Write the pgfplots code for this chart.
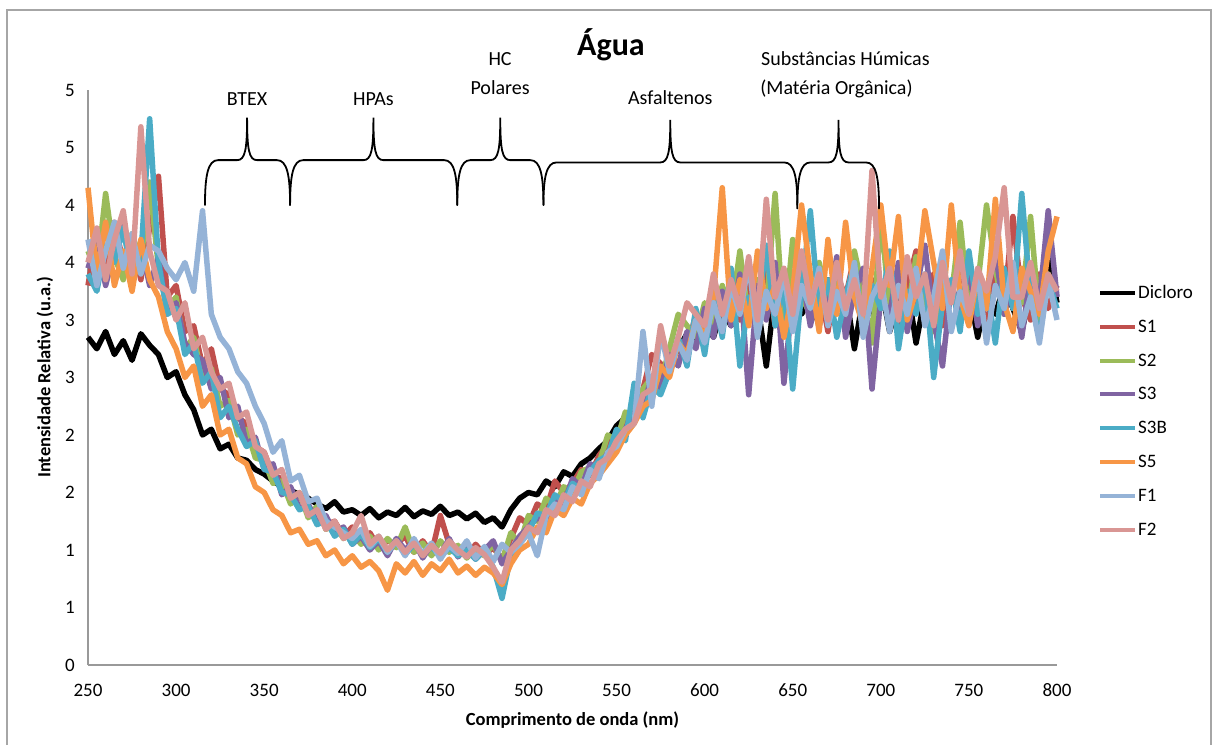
\documentclass[border=0pt]{standalone}
\usepackage{pgfplots}
\usepackage{pgfplotstable}
\pgfplotsset{compat=1.18}
\usepackage{fontspec}
\setmainfont{Carlito}

\definecolor{cS1}{RGB}{192,80,77}
\definecolor{cS2}{RGB}{155,187,89}
\definecolor{cS3}{RGB}{128,100,162}
\definecolor{cS3B}{RGB}{75,172,198}
\definecolor{cS5}{RGB}{247,150,70}
\definecolor{cF1}{RGB}{149,179,215}
\definecolor{cF2}{RGB}{217,150,148}

\pgfplotstableread{
x    D     S1    S2    S3    S3B   S5    F1    F2
250 2.85 3.30 3.60 3.45 3.40 4.15 3.70 3.50
255 2.75 3.75 3.40 3.70 3.25 3.40 3.30 3.80
260 2.90 3.40 4.10 3.30 3.65 3.85 3.60 3.35
265 2.70 3.85 3.55 3.60 3.50 3.30 3.85 3.70
270 2.82 3.50 3.35 3.85 3.80 3.60 3.45 3.95
275 2.65 3.70 3.75 3.40 3.35 3.25 3.75 3.40
280 2.88 3.35 3.50 3.65 3.55 3.70 3.40 4.68
285 2.78 3.80 4.20 3.30 4.75 3.35 3.65 3.60
290 2.70 4.25 3.45 3.55 3.50 3.20 3.60 3.30
295 2.50 3.20 3.10 3.05 3.05 2.90 3.45 3.25
300 2.55 3.30 3.20 3.15 3.10 2.75 3.35 3.00
305 2.35 2.90 2.75 2.80 2.70 2.50 3.50 3.15
310 2.22 2.95 2.85 2.70 2.80 2.60 3.25 2.75
315 2.00 2.60 2.50 2.65 2.45 2.25 3.95 2.85
320 2.05 2.75 2.58 2.40 2.55 2.35 3.05 2.55
325 1.88 2.40 2.25 2.50 2.15 2.00 2.85 2.40
330 1.92 2.35 2.30 2.15 2.25 2.05 2.75 2.45
335 1.80 2.15 2.00 2.25 2.05 1.80 2.55 2.15
340 1.78 2.10 2.05 1.92 1.90 1.75 2.45 2.20
345 1.70 1.90 1.80 1.98 1.95 1.55 2.25 1.90
350 1.66 1.85 1.78 1.70 1.70 1.50 2.10 1.85
355 1.60 1.65 1.58 1.75 1.68 1.35 1.85 1.65
360 1.55 1.62 1.60 1.48 1.50 1.30 1.95 1.70
365 1.52 1.45 1.40 1.55 1.48 1.15 1.60 1.45
370 1.48 1.48 1.50 1.36 1.35 1.18 1.65 1.50
375 1.45 1.34 1.28 1.40 1.38 1.05 1.42 1.30
380 1.40 1.36 1.38 1.24 1.22 1.08 1.45 1.35
385 1.36 1.22 1.18 1.30 1.26 0.95 1.25 1.18
390 1.42 1.25 1.22 1.15 1.12 1.00 1.20 1.25
395 1.33 1.12 1.10 1.20 1.18 0.88 1.15 1.10
400 1.35 1.20 1.15 1.05 1.05 0.95 1.10 1.15
405 1.30 1.08 1.05 1.12 1.14 0.85 1.18 1.30
410 1.36 1.15 1.12 1.00 1.02 0.90 1.03 1.05
415 1.28 1.02 1.00 1.08 1.10 0.82 1.12 1.12
420 1.33 1.08 1.10 0.95 0.98 0.65 0.98 1.00
425 1.30 1.05 1.02 1.10 1.08 0.88 1.08 1.08
430 1.37 1.12 1.20 1.00 0.96 0.80 0.95 0.98
435 1.29 0.98 0.98 1.08 1.05 0.90 1.10 1.06
440 1.34 1.08 1.06 0.93 0.97 0.78 0.96 0.95
445 1.31 0.97 0.95 1.05 1.03 0.88 1.06 1.04
450 1.38 1.30 1.08 0.96 0.94 0.82 0.92 0.97
455 1.30 1.05 0.98 1.10 1.02 0.92 1.04 1.08
460 1.33 1.00 1.04 0.94 0.95 0.80 0.97 1.00
465 1.27 0.94 0.93 1.02 1.00 0.86 1.08 0.94
470 1.32 1.05 1.01 0.92 0.92 0.78 0.93 1.02
475 1.24 0.96 0.95 1.00 1.00 0.85 1.03 0.96
480 1.28 1.02 1.05 1.08 0.85 0.80 0.90 0.85
485 1.20 0.92 0.90 0.88 0.58 0.70 1.05 0.72
490 1.35 1.10 1.15 1.00 0.95 0.88 0.98 1.00
495 1.45 1.28 1.05 1.12 1.08 1.00 1.05 1.08
500 1.50 1.22 1.30 1.20 1.15 1.05 1.15 1.20
505 1.48 1.40 1.25 1.28 1.32 1.20 0.95 1.15
510 1.60 1.35 1.45 1.25 1.30 1.15 1.30 1.35
515 1.55 1.60 1.38 1.45 1.48 1.35 1.40 1.30
520 1.68 1.50 1.55 1.40 1.42 1.30 1.35 1.48
525 1.64 1.58 1.50 1.62 1.58 1.45 1.55 1.42
530 1.75 1.70 1.68 1.55 1.52 1.40 1.48 1.60
535 1.80 1.65 1.72 1.75 1.68 1.58 1.70 1.55
540 1.88 1.82 1.75 1.70 1.78 1.65 1.62 1.75
545 1.95 1.92 2.00 1.85 1.82 1.75 1.85 1.80
550 2.08 1.98 1.95 1.92 2.05 1.85 1.90 1.95
555 2.15 2.15 2.20 2.05 1.95 2.00 2.05 2.05
560 2.25 2.18 2.15 2.20 2.45 2.10 2.10 2.10
565 2.35 2.40 2.40 2.25 2.15 2.25 2.90 2.35
570 2.48 2.70 2.50 2.50 2.42 2.30 2.25 2.40
575 2.55 2.62 2.45 2.40 2.35 2.60 2.90 2.95
580 2.62 2.55 2.75 2.70 2.55 2.50 2.55 2.60
585 2.75 2.82 3.05 2.60 2.85 2.80 2.80 2.85
590 2.88 2.75 2.95 2.90 2.60 2.70 2.65 3.15
595 2.80 3.05 2.85 2.75 3.10 3.00 3.00 3.05
600 3.02 2.90 3.15 3.10 2.70 2.85 2.80 2.95
605 2.85 3.20 2.95 2.85 3.25 3.20 3.15 3.40
610 3.10 2.95 3.30 3.25 2.85 4.15 2.90 3.05
615 2.95 3.40 3.05 2.95 3.45 3.00 3.30 3.35
620 3.20 3.00 3.60 3.40 2.60 3.35 3.05 3.10
625 3.05 3.30 3.00 2.35 3.20 2.95 3.50 3.55
630 3.15 3.10 3.35 3.30 3.05 3.60 2.85 3.00
635 2.60 3.45 3.10 3.00 3.65 3.10 3.25 4.05
640 3.25 2.95 4.10 3.50 2.95 3.30 3.05 3.20
645 3.10 3.35 2.90 2.45 3.30 2.85 3.40 3.45
650 3.30 3.15 3.70 3.20 2.40 3.25 2.90 3.05
655 3.05 3.50 3.20 3.40 3.25 4.00 3.30 3.60
660 3.20 3.05 3.05 2.95 3.95 3.40 3.10 3.15
665 2.95 3.30 3.50 3.30 3.05 2.90 3.45 3.40
670 3.35 2.90 3.15 3.10 3.35 3.70 2.95 3.00
675 3.10 3.40 3.35 3.55 2.85 3.05 3.25 3.50
680 3.25 3.20 2.95 2.85 3.20 3.85 3.05 3.10
685 2.75 3.55 3.60 3.25 3.50 3.20 3.50 3.35
690 3.20 3.00 3.25 3.45 2.90 2.95 2.85 3.05
695 3.05 3.35 2.80 2.40 3.30 3.45 3.20 4.30
700 3.30 3.10 3.90 3.20 3.10 4.00 3.35 3.20
705 2.90 3.45 3.10 3.05 3.60 3.30 2.90 3.45
710 3.15 2.85 3.30 3.50 2.75 3.90 3.30 3.00
715 3.30 3.30 3.05 2.90 3.25 3.00 3.05 3.55
720 2.80 3.60 3.55 3.25 3.05 3.25 3.45 3.20
725 3.20 3.05 3.15 3.65 3.40 3.95 2.95 3.40
730 3.05 3.40 2.90 3.00 2.50 3.50 3.20 2.95
735 3.30 2.95 3.40 2.60 3.15 3.10 3.60 3.50
740 2.95 3.25 3.20 3.30 3.35 4.00 2.90 3.15
745 3.15 3.50 3.85 3.10 2.90 3.20 3.25 3.60
750 3.25 3.10 3.10 3.45 3.60 2.95 3.05 3.05
755 2.85 3.35 3.30 2.95 3.05 3.40 3.40 3.45
760 3.20 2.90 4.00 3.20 3.30 3.10 2.80 3.25
765 3.05 3.45 3.45 3.60 2.80 4.05 3.30 3.55
770 3.30 3.15 3.05 3.05 3.45 3.15 3.10 4.15
775 3.10 3.90 3.35 3.30 3.10 2.90 3.50 3.20
780 2.90 3.20 3.15 2.85 4.10 3.45 2.95 3.20
785 3.25 3.00 3.90 3.40 3.20 3.25 3.20 3.50
790 3.05 3.40 3.00 3.15 2.85 3.05 2.80 3.10
795 3.55 3.10 3.40 3.95 3.35 3.60 3.35 3.40
800 3.15 3.30 3.20 3.20 3.10 3.90 3.00 3.25
}\spectra

\newcommand{\mybrace}[6]{%
  \draw[line width=1.8pt, black, line cap=round]
    (axis cs:#1,#4) .. controls (axis cs:#1,#5-0.13) and (axis cs:#1+1.7,#5) .. (axis cs:#1+7.4,#5)
    -- (axis cs:#2-5.7,#5) .. controls (axis cs:#2-1.1,#5) and (axis cs:#2,#5+0.09) .. (axis cs:#2,#6)
    .. controls (axis cs:#2,#5+0.09) and (axis cs:#2+1.1,#5) .. (axis cs:#2+5.7,#5)
    -- (axis cs:#3-7.4,#5) .. controls (axis cs:#3-1.7,#5) and (axis cs:#3,#5-0.13) .. (axis cs:#3,#4);}

\begin{document}
\begin{tikzpicture}
\useasboundingbox (0pt,0pt) rectangle (1212pt,745pt);
\draw[black!35, line width=1.5pt] (7pt,0pt) -- (7pt,735pt) -- (1211pt,735pt) -- (1211pt,0pt);
\begin{axis}[
  at={(88pt,80pt)}, anchor=south west,
  scale only axis, width=969pt, height=575pt,
  xmin=250, xmax=800, ymin=0, ymax=5,
  xtick={250,300,...,800},
  ytick={0,0.5,1,1.5,2,2.5,3,3.5,4,4.5,5},
  yticklabels={0,1,1,2,2,3,3,4,4,5,5},
  axis x line*=bottom, axis y line*=left,
  axis line style={draw=black!40, line width=1.2pt, -},
  major tick length=0pt,
  /pgf/number format/assume math mode=true,
  tick label style={font=\fontsize{19}{22}\selectfont, text=black},
  xticklabel style={anchor=base, inner sep=0pt, yshift=-31pt},
  yticklabel style={anchor=east, inner sep=0pt, xshift=-13pt},
  xlabel={Comprimento de onda (nm)},
  ylabel={Intensidade Relativa (u.a.)},
  label style={font=\bfseries\fontsize{18.5}{22}\selectfont},
  xlabel style={at={(axis description cs:0.5,-0.0957)}, anchor=center},
  ylabel style={at={(axis description cs:-0.0444,0.5)}, anchor=center},
  clip=false,
  legend style={at={(axis description cs:1.0423,0.6626)}, anchor=north west,
    draw=none, fill=none, inner sep=0pt, row sep=18pt,
    font=\fontsize{19}{22}\selectfont, nodes={inner sep=1pt}},
  legend cell align=left,
  legend image code/.code={\draw[#1, line width=4pt] (0pt,0pt) -- (35pt,0pt);},
  every axis plot/.append style={line width=5.5pt, line join=round, no markers},
]
\addplot[black] table[x=x,y=D] \spectra; \addlegendentry{Dicloro}
\addplot[cS1] table[x=x,y=S1] \spectra; \addlegendentry{S1}
\addplot[cS2] table[x=x,y=S2] \spectra; \addlegendentry{S2}
\addplot[cS3] table[x=x,y=S3] \spectra; \addlegendentry{S3}
\addplot[cS3B] table[x=x,y=S3B] \spectra; \addlegendentry{S3B}
\addplot[cS5] table[x=x,y=S5] \spectra; \addlegendentry{S5}
\addplot[cF1] table[x=x,y=F1] \spectra; \addlegendentry{F1}
\addplot[cF2] table[x=x,y=F2] \spectra; \addlegendentry{F2}

\mybrace{316.4}{340.3}{364.7}{4.0}{4.39}{4.76}
\mybrace{364.7}{412.0}{459.6}{4.0}{4.39}{4.76}
\mybrace{459.6}{484.0}{508.5}{4.0}{4.39}{4.76}
\mybrace{508.5}{580.5}{652.6}{4.0}{4.37}{4.74}
\mybrace{652.6}{676.0}{699.0}{3.97}{4.37}{4.74}

\begin{scope}[every node/.style={font=\fontsize{20}{24}\selectfont, inner sep=0pt}]
\node[anchor=base] at (axis cs:340.3,4.865) {BTEX};
\node[anchor=base] at (axis cs:412.0,4.865) {HPAs};
\node[anchor=base] at (axis cs:483.9,5.21) {HC};
\node[anchor=base] at (axis cs:483.9,4.965) {Polares};
\node[anchor=base] at (axis cs:580.5,4.87) {Asfaltenos};
\node[anchor=base west] at (axis cs:632.0,5.21) {Substâncias Húmicas};
\node[anchor=base west] at (axis cs:631.5,4.965) {(Matéria Orgânica)};
\end{scope}
\end{axis}
\node[anchor=base, font=\bfseries\fontsize{32}{38}\selectfont, inner sep=0pt] at (611pt,689pt) {Água};
\end{tikzpicture}
\end{document}
